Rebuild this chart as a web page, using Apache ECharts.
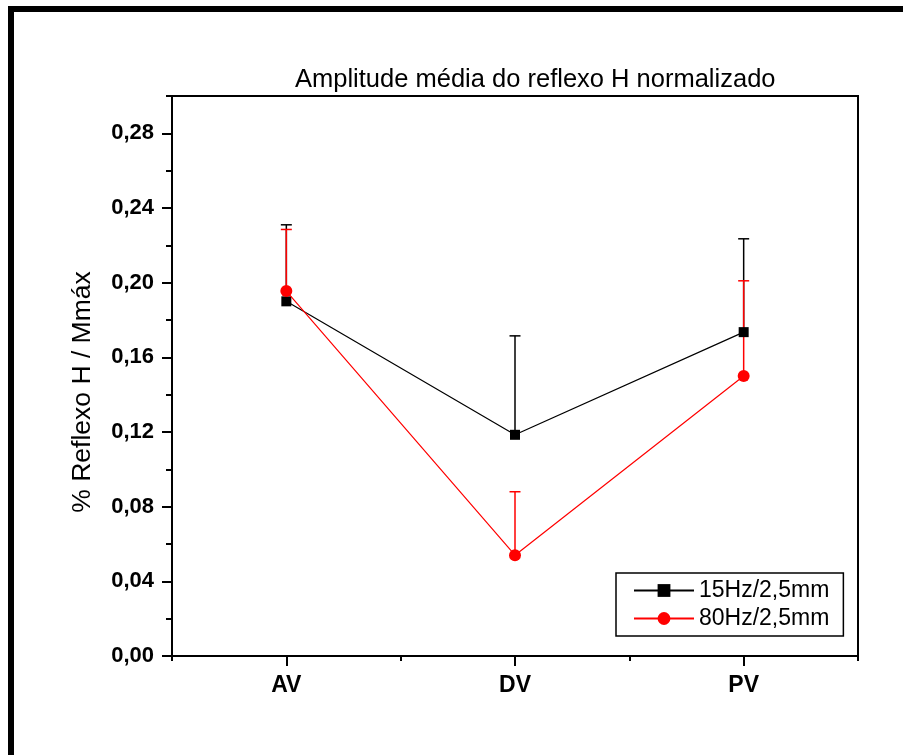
<!DOCTYPE html>
<html><head><meta charset="utf-8">
<script src="https://cdn.jsdelivr.net/npm/echarts@6/dist/echarts.min.js"></script>
<style>html,body{margin:0;padding:0;background:#fff}#c{width:903px;height:755px}</style>
</head><body><div id="c"></div>
<script>
var categories = ['AV', 'DV', 'PV'];
var s15 = [0.190, 0.1185, 0.1735];
var s15err = [0.041, 0.053, 0.050];
var s80 = [0.1955, 0.054, 0.150];
var s80err = [0.033, 0.034, 0.051];
var yMajorTicks = [0, 0.04, 0.08, 0.12, 0.16, 0.20, 0.24, 0.28];
var seriesNames = ['15Hz/2,5mm', '80Hz/2,5mm'];
var yAxisTitle = '% Reflexo H / Mmáx';

var chart = echarts.init(document.getElementById('c'));
var FONT = 'Liberation Sans, Arial, sans-serif';

function errBar(name, vals, errs, color) {
  return {
    name: name + ' err', type: 'custom', xAxisIndex: 1, yAxisIndex: 1,
    silent: true, z: 2,
    data: vals.map(function (v, i) { return [i, v, v + errs[i]]; }),
    renderItem: function (params, api) {
      var p0 = api.coord([api.value(0), api.value(1)]);
      var p1 = api.coord([api.value(0), api.value(2)]);
      var w = 5.5;
      return {
        type: 'group',
        children: [
          { type: 'line', shape: { x1: p0[0], y1: p0[1], x2: p1[0], y2: p1[1] }, style: { stroke: color, lineWidth: 1.5 } },
          { type: 'line', shape: { x1: p1[0] - w, y1: p1[1], x2: p1[0] + w, y2: p1[1] }, style: { stroke: color, lineWidth: 1.5 } }
        ]
      };
    }
  };
}

var option = {
  animation: false,
  backgroundColor: '#fff',
  title: {
    text: 'Amplitude média do reflexo H normalizado',
    left: 290, top: 62,
    textStyle: { fontFamily: FONT, fontSize: 25.5, fontWeight: 'normal', color: '#000' }
  },
  grid: { left: 172, top: 96, right: 45, bottom: 99, show: true, borderColor: '#000', borderWidth: 2, backgroundColor: 'transparent' },
  legend: {
    orient: 'vertical', left: 616, top: 573, width: 232, height: 67,
    padding: [6, 14, 6, 17], itemGap: 5, itemWidth: 60, itemHeight: 16,
    borderColor: '#000', borderWidth: 1.5,
    data: seriesNames,
    textStyle: { fontFamily: FONT, fontSize: 23, color: '#000' }
  },
  xAxis: [
    {
      type: 'category', data: categories, boundaryGap: true, position: 'bottom',
      axisLine: { show: true, lineStyle: { color: '#000', width: 2 } },
      axisTick: { show: true, length: 5, lineStyle: { color: '#000', width: 2 } },
      axisLabel: { show: false }, splitLine: { show: false }
    },
    {
      type: 'category', data: categories, boundaryGap: true, position: 'bottom',
      axisLine: { show: false },
      axisTick: { show: true, alignWithLabel: true, length: 10, lineStyle: { color: '#000', width: 2 } },
      axisLabel: { show: true, margin: 18, fontFamily: FONT, fontSize: 23, fontWeight: 'bold', color: '#000' },
      splitLine: { show: false }
    }
  ],
  yAxis: [
    {
      type: 'value', min: 0, max: 0.30, interval: 0.02, position: 'left',
      axisLine: { show: true, lineStyle: { color: '#000', width: 2 } },
      axisTick: { show: true, length: 6, lineStyle: { color: '#000', width: 2 } },
      axisLabel: { show: false }, splitLine: { show: false }
    },
    {
      type: 'value', min: 0, max: 0.30, interval: 0.04, position: 'left',
      axisLine: { show: false },
      axisTick: { show: true, length: 10, customValues: yMajorTicks, lineStyle: { color: '#000', width: 2 } },
      axisLabel: {
        show: true, margin: 18, customValues: yMajorTicks,
        fontFamily: FONT, fontSize: 22, fontWeight: 'bold', color: '#000',
        formatter: function (v) { return v.toFixed(2).replace('.', ','); }
      },
      splitLine: { show: false }
    }
  ],
  series: [
    errBar(seriesNames[0], s15, s15err, '#000'),
    {
      name: seriesNames[0], type: 'line', xAxisIndex: 1, yAxisIndex: 1, data: s15, z: 3,
      symbol: 'rect', symbolSize: 10, itemStyle: { color: '#000' },
      lineStyle: { color: '#000', width: 1.2 }
    },
    errBar(seriesNames[1], s80, s80err, '#FF0000'),
    {
      name: seriesNames[1], type: 'line', xAxisIndex: 1, yAxisIndex: 1, data: s80, z: 4,
      symbol: 'circle', symbolSize: 12, itemStyle: { color: '#FF0000' },
      lineStyle: { color: '#FF0000', width: 1.2 }
    }
  ],
  graphic: [
    { type: 'rect', shape: { x: 8, y: 6, width: 895, height: 6 }, style: { fill: '#000' }, z: 100 },
    { type: 'rect', shape: { x: 8, y: 6, width: 6, height: 749 }, style: { fill: '#000' }, z: 100 },
    {
      type: 'text', x: 83, y: 392, rotation: Math.PI / 2,
      style: { text: yAxisTitle, fontFamily: FONT, fontSize: 26.5, fill: '#000', align: 'center', verticalAlign: 'middle' }
    }
  ]
};
chart.setOption(option);
</script>
</body></html>
